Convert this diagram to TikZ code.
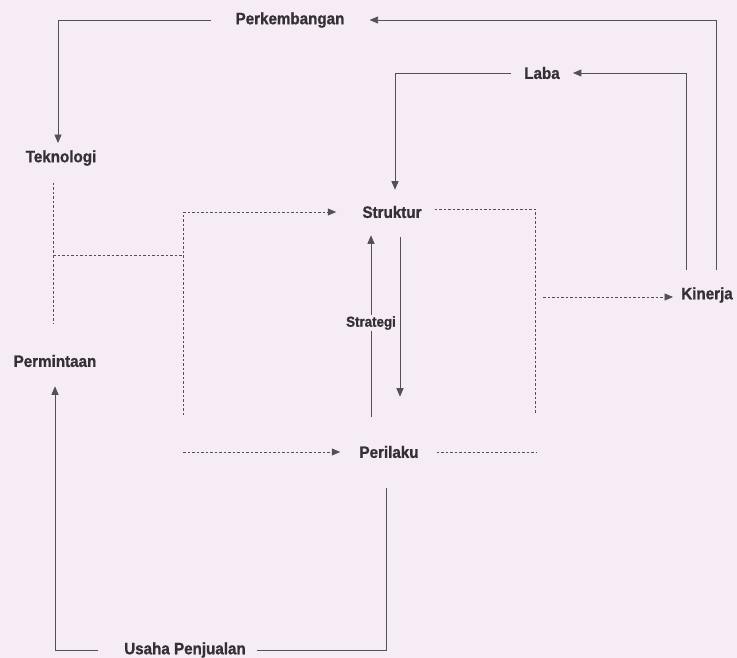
\documentclass[tikz,border=0pt]{standalone}
\usepackage{fontspec}
\newfontfamily\lblfont{Liberation Sans}[FakeStretch=0.92, BoldFeatures={FakeBold=1.0}]
\usetikzlibrary{arrows.meta}
\definecolor{bg}{RGB}{246,236,246}
\definecolor{ink}{RGB}{52,48,54}
\definecolor{wire}{RGB}{85,80,88}
\tikzset{
  lbl/.style={inner sep=0pt, text=ink, font=\lblfont\bfseries\fontsize{16.5}{18}\selectfont},
  sublbl/.style={inner sep=1.5pt, fill=bg, text=ink, font=\lblfont\bfseries\fontsize{14.5}{16}\selectfont},
  wireline/.style={draw=wire, line width=0.85pt},
  arr/.style={wireline, -{Triangle[length=8.5pt,width=7pt]}},
  dline/.style={draw=wire, line width=0.85pt, dash pattern=on 2.5pt off 2pt},
  darr/.style={dline, -{Triangle[length=8.5pt,width=7pt]}}
}
\begin{document}
\begin{tikzpicture}[x=1pt,y=-1pt]
\fill[bg] (0,0) rectangle (737,658);
\useasboundingbox (0,0) rectangle (737,658);
% labels
\node[lbl] (perk)  at (290,20)  {Perkembangan};
\node[lbl] (lab)   at (542,73)  {Laba};
\node[lbl] (tek)   at (61,158)  {Teknologi};
\node[lbl] (str)   at (392,212) {Struktur};
\node[lbl] (kin)   at (707,295) {Kinerja};
\node[lbl] (perm)  at (55,361)  {Permintaan};
\node[lbl] (peri)  at (389,452) {Perilaku};
\node[lbl] (usaha) at (185,650) {Usaha Penjualan};
% solid feedback connectors
\draw[arr] ([xshift=-24pt]perk.west) -| ([xshift=-3pt,yshift=7pt]tek.north);
\draw[arr] ([xshift=9pt,yshift=17pt]kin.north) |- ([xshift=25pt]perk.east);
\draw[arr] ([xshift=-21pt,yshift=17pt]kin.north) |- ([xshift=13pt]lab.east);
\draw[arr] ([xshift=-13pt]lab.west) -| ([xshift=3pt,yshift=16pt]str.north);
\draw[arr] ([xshift=-26pt]usaha.west) -| ([yshift=-19pt]perm.south);
\draw[wireline] ([xshift=11pt]usaha.east) -| ([xshift=-3pt,yshift=-30pt]peri.south);
% strategi
\draw[arr] ([xshift=-18pt,yshift=29pt]peri.north) -- ([xshift=-21pt,yshift=-17pt]str.south);
\draw[arr] ([xshift=8pt,yshift=-19pt]str.south) -- ([xshift=11pt,yshift=49pt]peri.north);
\node[sublbl] (strat) at (371,323) {Strategi};
% dashed structure
\coordinate (tl) at (53,183);
\coordinate (bl) at (53,323);
\coordinate (ja) at (53,255);
\coordinate (jb) at (183,255);
\coordinate (ct) at (183,212);
\coordinate (cb) at (183,415);
\coordinate (cp) at (183,452);
\draw[dline] (tl) -- (bl);
\draw[dline] (ja) -- (jb);
\draw[dline] (cb) -- (ct);
\draw[darr] (ct) -- ([xshift=-26pt]str.west);
\draw[darr] (cp) -- ([xshift=-19pt]peri.west);
\coordinate (rt) at (535,209);
\coordinate (rb) at (535,413);
\coordinate (rp) at (537,452);
\coordinate (rk) at (543,297);
\draw[dline] ([xshift=13pt,yshift=3pt]str.east) -- (rt) -- (rb);
\draw[dline] ([xshift=18pt]peri.east) -- (rp);
\draw[darr] (rk) -- ([xshift=-8pt,yshift=-2pt]kin.west);
\end{tikzpicture}
\end{document}
